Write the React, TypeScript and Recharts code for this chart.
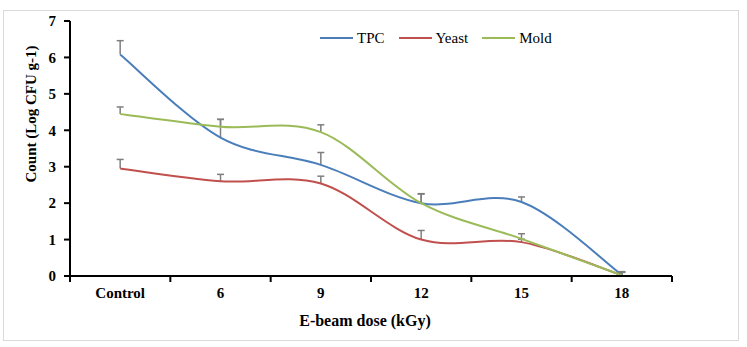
import { LineChart, Line, XAxis, YAxis, ErrorBar } from 'recharts';

const categories = ['Control', '6', '9', '12', '15', '18'];
const tpc = [6.08, 3.8, 3.05, 2.0, 2.03, 0.03];
const tpcErr = [0.38, 0.5, 0.34, 0.26, 0.14, 0.08];
const yeast = [2.95, 2.6, 2.54, 1.0, 0.93, 0.02];
const yeastErr = [0.25, 0.19, 0.2, 0.25, 0.08, 0.08];
const mold = [4.45, 4.1, 3.95, 2.0, 1.02, 0.02];
const moldErr = [0.19, 0.2, 0.2, 0.25, 0.14, 0.1];
const yTicks = [0, 1, 2, 3, 4, 5, 6, 7];

const FONT = '"Liberation Serif", "Times New Roman", serif';
const BLUE = '#4a7ebb';
const RED = '#c0504d';
const GREEN = '#9bbb59';
const ERR = '#7f7f7f';

const data = categories.map((c, i) => ({
  x: i + 0.5,
  name: c,
  tpc: tpc[i],
  tpcErr: [0, tpcErr[i]],
  yeast: yeast[i],
  yeastErr: [0, yeastErr[i]],
  mold: mold[i],
  moldErr: [0, moldErr[i]],
}));

// x ticks: integers are boundary tick marks, halves carry the category label
const xTicks = Array.from({ length: categories.length * 2 + 1 }, (_, i) => i / 2);

// Excel style smoothed line (Catmull-Rom as cubic bezier)
function excelCurve(context: any) {
  let pts: number[][] = [];
  return {
    areaStart() {},
    areaEnd() {},
    lineStart() {
      pts = [];
    },
    point(x: number, y: number) {
      pts.push([+x, +y]);
    },
    lineEnd() {
      const n = pts.length;
      if (!n) return;
      context.moveTo(pts[0][0], pts[0][1]);
      for (let i = 0; i < n - 1; i++) {
        const p0 = pts[Math.max(i - 1, 0)];
        const p1 = pts[i];
        const p2 = pts[i + 1];
        const p3 = pts[Math.min(i + 2, n - 1)];
        context.bezierCurveTo(
          p1[0] + (p2[0] - p0[0]) / 6,
          p1[1] + (p2[1] - p0[1]) / 6,
          p2[0] - (p3[0] - p1[0]) / 6,
          p2[1] - (p3[1] - p1[1]) / 6,
          p2[0],
          p2[1]
        );
      }
    },
  };
}

function XTick(props: any) {
  const { x, y, payload } = props;
  const v = payload.value as number;
  if (Number.isInteger(v)) {
    return <line x1={x} x2={x} y1={y} y2={y + 6} stroke="#000" strokeWidth={2} />;
  }
  return (
    <text x={x} y={y + 22} textAnchor="middle" fontSize={15} fontWeight="bold" fill="#000" fontFamily={FONT}>
      {categories[Math.floor(v)]}
    </text>
  );
}

const legendItems = [
  { label: 'TPC', color: BLUE },
  { label: 'Yeast', color: RED },
  { label: 'Mold', color: GREEN },
];

export default function App() {
  return (
    <div style={{ position: 'absolute', left: 0, top: 0, width: 747, height: 347, fontFamily: FONT, background: '#fff' }}>
      {/* plus-only error bars: hide the cap at the data point */}
      <style>{`.recharts-errorBar line:nth-of-type(3) { display: none; }`}</style>
      <div
        style={{
          position: 'absolute',
          left: 3,
          top: 10,
          width: 734,
          height: 329,
          border: '1px solid #d9d9d9',
        }}
      />
      <LineChart
        width={747}
        height={347}
        data={data}
        margin={{ top: 21, right: 75, left: 30, bottom: 41 }}
        style={{ position: 'absolute', left: 0, top: 0 }}
      >
        <XAxis
          dataKey="x"
          type="number"
          domain={[0, categories.length]}
          ticks={xTicks}
          interval={0}
          tickLine={false}
          tickSize={0}
          tickMargin={0}
          tick={<XTick />}
          axisLine={{ stroke: '#000', strokeWidth: 2 }}
          height={30}
        />
        <YAxis
          type="number"
          domain={[0, 7]}
          ticks={yTicks}
          interval={0}
          width={40}
          tickSize={6}
          tickMargin={8}
          tick={{ fontSize: 15, fontWeight: 'bold', fill: '#000', fontFamily: FONT }}
          tickLine={{ stroke: '#000', strokeWidth: 2 }}
          axisLine={{ stroke: '#000', strokeWidth: 2 }}
        />
        <Line type={excelCurve as any} dataKey="tpc" stroke={BLUE} strokeWidth={2} dot={false} activeDot={false} isAnimationActive={false}>
          <ErrorBar dataKey="tpcErr" width={3.5} stroke={ERR} strokeWidth={1.5} direction="y" />
        </Line>
        <Line type={excelCurve as any} dataKey="yeast" stroke={RED} strokeWidth={2} dot={false} activeDot={false} isAnimationActive={false}>
          <ErrorBar dataKey="yeastErr" width={3.5} stroke={ERR} strokeWidth={1.5} direction="y" />
        </Line>
        <Line type={excelCurve as any} dataKey="mold" stroke={GREEN} strokeWidth={2} dot={false} activeDot={false} isAnimationActive={false}>
          <ErrorBar dataKey="moldErr" width={3.5} stroke={ERR} strokeWidth={1.5} direction="y" />
        </Line>
      </LineChart>

      {/* legend */}
      <div style={{ position: 'absolute', left: 320, top: 28, display: 'flex', alignItems: 'center', fontSize: 15, color: '#000' }}>
        {legendItems.map(it => (
          <div key={it.label} style={{ display: 'flex', alignItems: 'center', marginRight: 14 }}>
            <span style={{ display: 'inline-block', width: 33, height: 2, background: it.color, marginRight: 4 }} />
            <span style={{ lineHeight: '20px' }}>{it.label}</span>
          </div>
        ))}
      </div>

      {/* axis titles */}
      <div
        style={{
          position: 'absolute',
          left: 31 - 100,
          top: 114 - 10,
          width: 200,
          height: 20,
          lineHeight: '20px',
          textAlign: 'center',
          transform: 'rotate(-90deg)',
          fontSize: 15,
          fontWeight: 'bold',
          color: '#000',
        }}
      >
        Count (Log CFU g-1)
      </div>
      <div
        style={{
          position: 'absolute',
          left: 365 - 100,
          top: 311,
          width: 200,
          lineHeight: '20px',
          textAlign: 'center',
          fontSize: 16,
          fontWeight: 'bold',
          color: '#000',
        }}
      >
        E-beam dose (kGy)
      </div>
    </div>
  );
}
